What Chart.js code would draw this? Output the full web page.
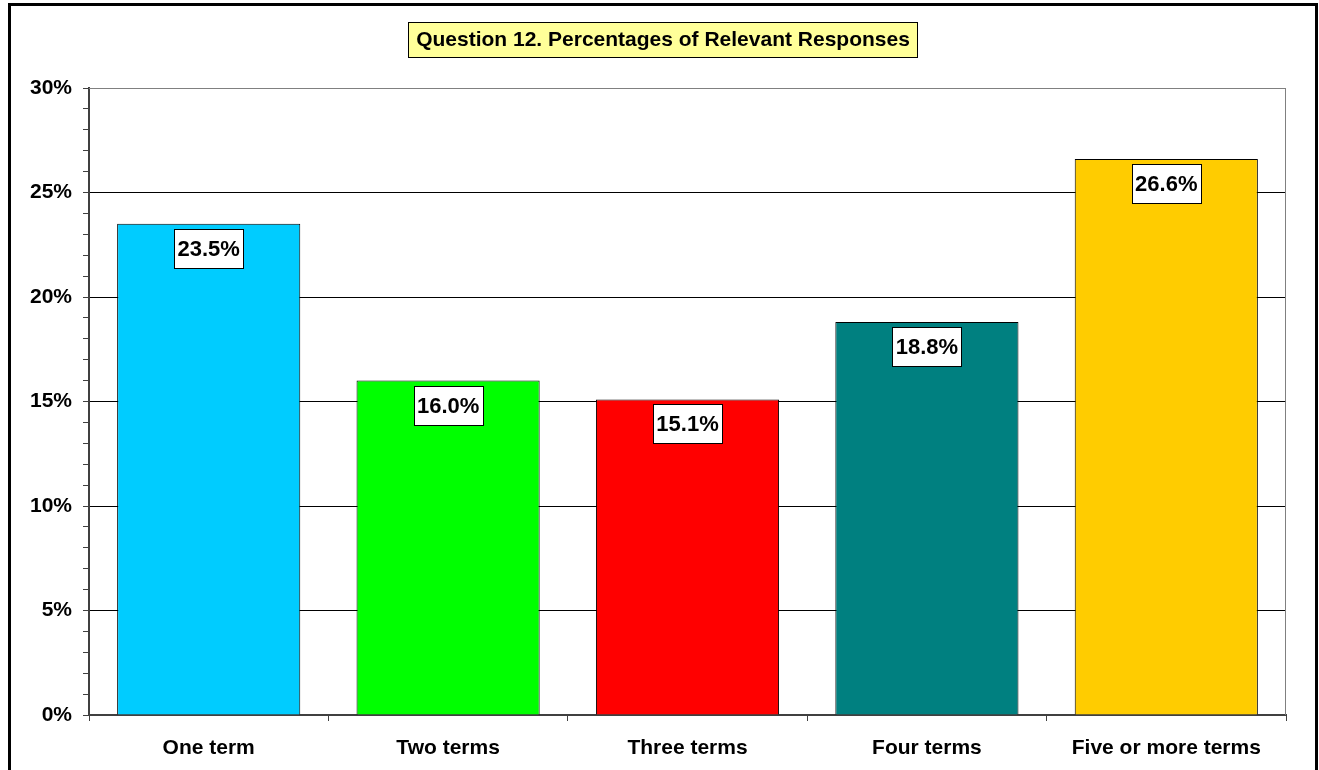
<!DOCTYPE html>
<html>
<head>
<meta charset="utf-8">
<script src="https://cdn.jsdelivr.net/npm/chart.js@4/dist/chart.umd.min.js"></script>
<style>
  html, body { margin: 0; padding: 0; background: #fff; overflow: hidden; }
  #wrap { position: relative; width: 1319px; height: 770px; }
</style>
</head>
<body>
<div id="wrap"><canvas id="ch"></canvas></div>
<script>
// chart data
const categories = ['One term', 'Two terms', 'Three terms', 'Four terms', 'Five or more terms'];
const percents   = [23.5, 16.0, 15.1, 18.8, 26.6];
const barColors  = ['#00CCFF', '#00FF00', '#FF0000', '#008080', '#FFCC00'];
const chartTitle = 'Question 12. Percentages of Relevant Responses';

const FONT = '"Liberation Sans", Arial, sans-serif';

// frame, title box, right/top plot border
const framePlugin = {
  id: 'frame',
  afterDraw(chart) {
    const ctx = chart.ctx, a = chart.chartArea;
    ctx.save();
    // plot area right border (gray)
    ctx.strokeStyle = '#808080';
    ctx.lineWidth = 1;
    ctx.beginPath();
    ctx.moveTo(a.left, a.top + 0.5);
    ctx.lineTo(Math.round(a.right) - 0.5, a.top + 0.5);
    ctx.lineTo(Math.round(a.right) - 0.5, a.bottom);
    ctx.stroke();
    // title box
    ctx.fillStyle = '#FFFF99';
    ctx.fillRect(408, 22, 509, 35);
    ctx.strokeStyle = '#000';
    ctx.strokeRect(408.5, 22.5, 509, 35);
    ctx.fillStyle = '#000';
    ctx.font = 'bold 21px ' + FONT;
    ctx.textAlign = 'center';
    ctx.textBaseline = 'middle';
    ctx.fillText(chartTitle, 663, 40);
    // outer chart border
    ctx.lineWidth = 3;
    ctx.strokeRect(9.5, 4.5, 1307, 800);
    ctx.restore();
  }
};

// value boxes just under each bar's top
const valueLabels = {
  id: 'valueLabels',
  afterDatasetsDraw(chart) {
    const ctx = chart.ctx;
    const meta = chart.getDatasetMeta(0);
    ctx.save();
    ctx.font = 'bold 22px ' + FONT;
    ctx.textAlign = 'center';
    ctx.textBaseline = 'middle';
    meta.data.forEach((bar, i) => {
      const txt = percents[i].toFixed(1) + '%';
      const w = Math.round(ctx.measureText(txt).width) + 7;
      const h = 39;
      const x = Math.round(bar.x - w / 2) + 0.5;
      const y = Math.round(bar.y) + 5.5;
      ctx.fillStyle = '#fff';
      ctx.fillRect(x, y, w, h);
      ctx.strokeStyle = '#000';
      ctx.lineWidth = 1;
      ctx.strokeRect(x, y, w, h);
      ctx.fillStyle = '#000';
      ctx.fillText(txt, bar.x, y + h / 2 + 1);
    });
    ctx.restore();
  }
};

new Chart(document.getElementById('ch'), {
  type: 'bar',
  data: {
    labels: categories,
    datasets: [{
      data: percents,
      backgroundColor: barColors,
      borderColor: '#000',
      borderWidth: 1,
      categoryPercentage: 1,
      barPercentage: 0.765
    }]
  },
  options: {
    responsive: true,
    maintainAspectRatio: false,
    animation: false,
    layout: { padding: { top: 88, right: 33, left: 0, bottom: 0 } },
    plugins: { legend: { display: false }, tooltip: { enabled: false }, title: { display: false } },
    scales: {
      x: {
        grid: { offset: true, color: 'transparent', tickColor: '#404040', tickLength: 6, tickWidth: 1 },
        border: { display: true, color: '#404040', width: 2 },
        ticks: { color: '#000', font: { family: FONT, size: 21, weight: 'bold' }, padding: 15, maxRotation: 0 },
        afterFit(s) { s.height = 55; }
      },
      y: {
        min: 0, max: 30,
        grid: {
          color: c => (c.tick && c.tick.value % 5 === 0) ? (c.tick.value === 30 ? '#808080' : '#000') : 'transparent',
          tickColor: '#404040', tickLength: 6, tickWidth: 1
        },
        border: { display: true, color: '#404040', width: 2 },
        ticks: {
          stepSize: 1, autoSkip: false, color: '#000', padding: 11,
          font: { family: FONT, size: 21, weight: 'bold' },
          callback: v => (v % 5 === 0 ? v + '%' : '')
        },
        afterFit(s) { s.width = 89; }
      }
    }
  },
  plugins: [framePlugin, valueLabels]
});
</script>
</body>
</html>
